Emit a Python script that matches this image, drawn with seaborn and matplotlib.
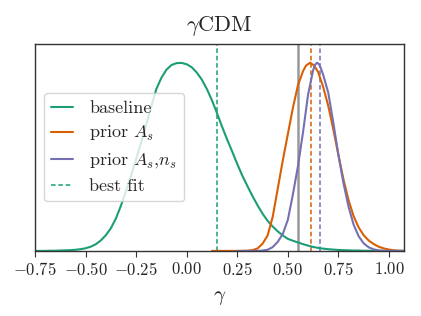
import numpy as np
import pandas as pd
import matplotlib
matplotlib.use("Agg")
import matplotlib.pyplot as plt
import seaborn as sns
from matplotlib.lines import Line2D

# ---- data ----
baseline_gamma = [-0.750, -0.725, -0.700, -0.675, -0.650, -0.625, -0.600, -0.575, -0.550, -0.525,
                  -0.500, -0.475, -0.450, -0.425, -0.400, -0.375, -0.350, -0.325, -0.300, -0.275,
                  -0.250, -0.225, -0.200, -0.175, -0.150, -0.125, -0.100, -0.075, -0.050, -0.025,
                  0.000, 0.025, 0.050, 0.075, 0.100, 0.125, 0.150, 0.175, 0.200, 0.225,
                  0.250, 0.275, 0.300, 0.325, 0.350, 0.375, 0.400, 0.425, 0.450, 0.475,
                  0.500, 0.525, 0.550, 0.575, 0.600, 0.625, 0.650, 0.675, 0.700, 0.725,
                  0.750, 0.775, 0.800, 0.825, 0.850, 0.875, 0.900, 0.925, 0.950, 0.975,
                  1.000, 1.025, 1.050, 1.075]
baseline_pdf = [0.000, 0.000, 0.000, 0.001, 0.001, 0.002, 0.003, 0.004, 0.006, 0.009,
                0.014, 0.022, 0.035, 0.055, 0.083, 0.120, 0.172, 0.240, 0.318, 0.400,
                0.488, 0.576, 0.670, 0.768, 0.860, 0.920, 0.963, 0.988, 0.998, 0.999,
                0.992, 0.976, 0.948, 0.910, 0.860, 0.800, 0.732, 0.660, 0.592, 0.528,
                0.462, 0.400, 0.345, 0.292, 0.243, 0.198, 0.160, 0.130, 0.104, 0.082,
                0.064, 0.054, 0.045, 0.036, 0.028, 0.021, 0.016, 0.012, 0.009, 0.007,
                0.005, 0.004, 0.003, 0.002, 0.002, 0.001, 0.001, 0.000, 0.000, 0.000,
                0.000, 0.000, 0.000, 0.000]

priorAs_gamma = [0.125, 0.250, 0.275, 0.300, 0.325, 0.350, 0.375, 0.400, 0.425, 0.450,
                 0.475, 0.500, 0.525, 0.550, 0.575, 0.590, 0.610, 0.630, 0.650, 0.675,
                 0.700, 0.725, 0.750, 0.775, 0.800, 0.825, 0.850, 0.875, 0.900, 0.925,
                 0.950, 0.975, 1.000, 1.025, 1.050, 1.075]
priorAs_pdf = [0.000, 0.000, 0.000, 0.001, 0.004, 0.013, 0.038, 0.082, 0.180, 0.330,
               0.480, 0.620, 0.760, 0.880, 0.955, 0.985, 1.000, 0.985, 0.950, 0.870,
               0.770, 0.645, 0.510, 0.380, 0.270, 0.185, 0.125, 0.083, 0.055, 0.036,
               0.022, 0.013, 0.007, 0.003, 0.001, 0.000]

priorAsns_gamma = [0.250, 0.350, 0.375, 0.400, 0.425, 0.450, 0.475, 0.500, 0.525, 0.550,
                   0.575, 0.600, 0.625, 0.635, 0.645, 0.655, 0.665, 0.675, 0.700, 0.725,
                   0.750, 0.775, 0.800, 0.825, 0.850, 0.875, 0.900, 0.925, 0.950, 0.975,
                   1.000, 1.075]
priorAsns_pdf = [0.000, 0.000, 0.002, 0.006, 0.020, 0.048, 0.090, 0.165, 0.300, 0.450,
                 0.630, 0.830, 0.960, 0.990, 1.000, 0.991, 0.966, 0.935, 0.840, 0.680,
                 0.510, 0.360, 0.235, 0.140, 0.078, 0.040, 0.019, 0.008, 0.003, 0.001,
                 0.000, 0.000]

series_names = ["baseline", r"prior $A_s$", r"prior $A_s$,$n_s$"]
series_colors = ["#1b9e77", "#d95f02", "#7570b3"]
bestfit_values = [0.152, 0.616, 0.658]
reference_value = 0.549
xtick_values = [-0.75, -0.50, -0.25, 0.00, 0.25, 0.50, 0.75, 1.00]

df = pd.concat([
    pd.DataFrame({"gamma": baseline_gamma, "pdf": baseline_pdf, "series": series_names[0]}),
    pd.DataFrame({"gamma": priorAs_gamma, "pdf": priorAs_pdf, "series": series_names[1]}),
    pd.DataFrame({"gamma": priorAsns_gamma, "pdf": priorAsns_pdf, "series": series_names[2]}),
], ignore_index=True)

sns.set_style("ticks")
plt.rcParams["font.family"] = "serif"
plt.rcParams["font.serif"] = ["cmr10", "DejaVu Serif"]
plt.rcParams["mathtext.fontset"] = "cm"
plt.rcParams["axes.formatter.use_mathtext"] = True
plt.rcParams["axes.unicode_minus"] = True

fig = plt.figure(figsize=(4.21, 3.16), dpi=100)
ax = fig.add_axes([0.083, 0.206, 0.877, 0.655])

sns.lineplot(data=df, x="gamma", y="pdf", hue="series", palette=series_colors,
             hue_order=series_names, ax=ax, linewidth=1.5, sort=True, legend=False)

ax.axvline(reference_value, color="#999999", lw=1.8, zorder=1)
for v, c in zip(bestfit_values, series_colors):
    ax.axvline(v, color=c, lw=1.1, ls=(0, (3, 1.8)), zorder=1)

ax.set_xlim(-0.75, 1.075)
ax.set_ylim(0, 1.10)
ax.set_xticks(xtick_values)
ax.set_yticks([])
ax.set_ylabel("")
ax.set_xlabel(r"$\gamma$", fontsize=15, labelpad=8)
ax.set_title(r"$\gamma$CDM", fontsize=16, pad=9)
ax.tick_params(axis="x", labelsize=12, length=4, color="#333333")
for s in ax.spines.values():
    s.set_color("#333333")
    s.set_linewidth(1.0)
    s.set_visible(True)

handles = [Line2D([], [], color=series_colors[0], lw=1.5),
           Line2D([], [], color=series_colors[1], lw=1.5),
           Line2D([], [], color=series_colors[2], lw=1.5),
           Line2D([], [], color=series_colors[0], lw=1.1, ls=(0, (3, 1.8)))]
ax.legend(handles, series_names + ["best fit"], loc="center left", fontsize=13,
          frameon=True, framealpha=0.8, edgecolor="#cccccc", fancybox=True,
          handlelength=1.2, handletextpad=0.9, borderaxespad=0.5,
          labelspacing=0.45)

fig.savefig("out.png", dpi=100)
